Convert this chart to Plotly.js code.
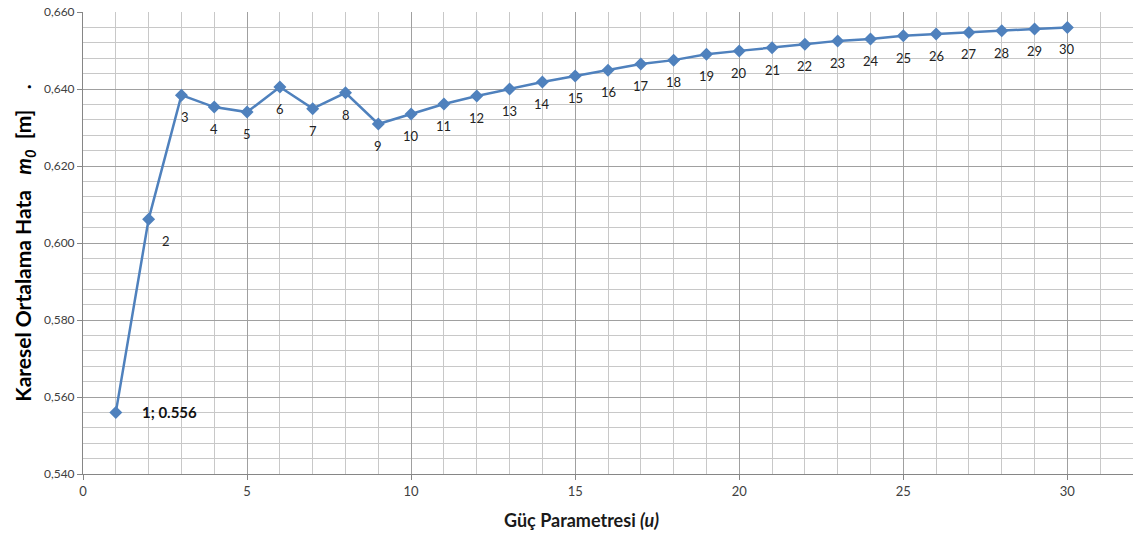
<!DOCTYPE html>
<html>
<head>
<meta charset="utf-8">
<script src="https://cdn.plot.ly/plotly-3.0.1.min.js"></script>
<style>html,body{margin:0;padding:0;background:#fff;}#chart{width:1136px;height:537px;}</style>
</head>
<body>
<div id="chart"></div>
<script>
// Güç parametresi u
const u = [1,2,3,4,5,6,7,8,9,10,11,12,13,14,15,16,17,18,19,20,21,22,23,24,25,26,27,28,29,30];
// Karesel ortalama hata m0 [m]
const m0 = [0.556,0.6062,0.6384,0.6353,0.6340,0.6405,0.6349,0.6390,0.6309,0.6335,
            0.6361,0.6382,0.6400,0.6418,0.6434,0.6449,0.6465,0.6475,0.6490,0.6499,
            0.6507,0.6516,0.6525,0.6530,0.6538,0.6543,0.6547,0.6551,0.6556,0.6560];
const pointLabels = u.map((v,i)=> i===0 ? '1; 0.556' : String(v));
const yTickVals = [0.54,0.56,0.58,0.60,0.62,0.64,0.66];
const xTickVals = [0,5,10,15,20,25,30];
const xTitle = '<b>Güç Parametresi <i>(u)</i></b>';
const yTitle = '<b>Karesel Ortalama Hata&nbsp;&nbsp;&nbsp;<i>m<sub>0</sub></i>&nbsp;&nbsp;[m]&nbsp;&nbsp;&nbsp;&nbsp;.</b>';

const font = 'Lato, "Open Sans", sans-serif';

const annotations = u.map((x,i)=>{
  if(i===0){
    return {x:x, y:m0[i], xref:'x', yref:'y', text:'<b>'+pointLabels[i]+'</b>', showarrow:false,
            xanchor:'left', yanchor:'middle', xshift:24, yshift:0,
            font:{family:font, size:15, color:'#111'}};
  }
  let xs = 0;
  if(i===1) xs = 17;
  if(i===2) xs = 4;
  return {x:x, y:m0[i], xref:'x', yref:'y', text:pointLabels[i], showarrow:false,
          xanchor:'center', yanchor:'middle', xshift:xs, yshift:-22,
          font:{family:font, size:13, color:'#222'}};
});
annotations.push({x:0.475, y:0, xref:'paper', yref:'paper', text:xTitle, showarrow:false,
  xanchor:'center', yanchor:'middle', yshift:-46, font:{family:font, size:18, color:'#1a1a1a'}});

const trace = {
  x: u, y: m0, type:'scatter', mode:'lines+markers',
  line:{color:'#4F81BD', width:2.5},
  marker:{symbol:'diamond', size:10, color:'#4F81BD'},
  hoverinfo:'x+y'
};

const layout = {
  width:1136, height:537,
  margin:{l:83, r:3, t:12, b:63},
  paper_bgcolor:'#fff', plot_bgcolor:'#fff',
  separators:',.',
  showlegend:false,
  font:{family:font, color:'#595959'},
  xaxis:{
    range:[0,32], tickvals:xTickVals, ticks:'outside', ticklen:5, tickcolor:'#868686',
    showgrid:true, gridcolor:'#a0a0a0', gridwidth:1,
    minor:{dtick:1, tick0:0, showgrid:true, gridcolor:'#c8c8c8', gridwidth:1},
    showline:true, linecolor:'#868686', linewidth:1, zeroline:false,
    tickfont:{family:font, size:13, color:'#404040'}
  },
  yaxis:{
    range:[0.54,0.66], tickvals:yTickVals, tickformat:'.3f', ticks:'outside', ticklen:5, tickcolor:'#868686',
    showgrid:true, gridcolor:'#a0a0a0', gridwidth:1,
    minor:{dtick:0.004, tick0:0.54, showgrid:true, gridcolor:'#c8c8c8', gridwidth:1},
    showline:true, linecolor:'#868686', linewidth:1, zeroline:false,
    tickfont:{family:font, size:12, color:'#404040'},
    title:{text:yTitle, font:{family:font, size:21, color:'#000'}, standoff:6}
  },
  annotations: annotations
};

Plotly.newPlot('chart', [trace], layout, {displayModeBar:false, staticPlot:true});
</script>
</body>
</html>
